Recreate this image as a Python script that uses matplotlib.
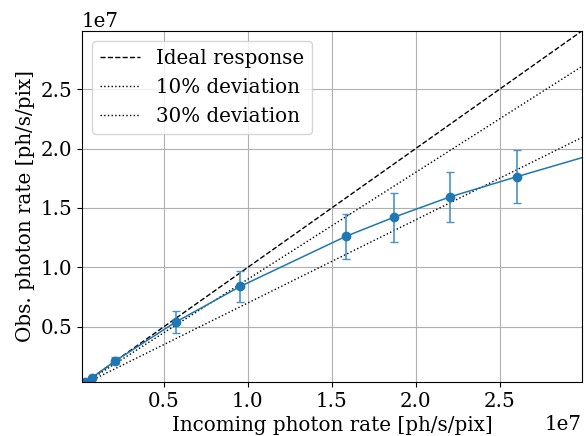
import numpy as np
import matplotlib
matplotlib.use("Agg")
import matplotlib.pyplot as plt

plt.rcParams['font.family'] = 'DejaVu Serif'
plt.rcParams['font.size'] = 14.3

# measured points (ph/s/pix)
rate_in = np.array([0.03, 0.07, 0.21, 0.571, 0.956, 1.584, 1.869, 2.204, 2.605]) * 1e7
rate_obs = np.array([0.035, 0.07, 0.212, 0.540, 0.840, 1.261, 1.421, 1.593, 1.764]) * 1e7
rate_err = np.array([0.005, 0.01, 0.03, 0.092, 0.132, 0.19, 0.205, 0.208, 0.222]) * 1e7

# model curve
curve_in = np.array([0.03, 0.07, 0.21, 0.571, 0.956, 1.584, 1.869, 2.204, 2.605, 3.0]) * 1e7
curve_obs = np.array([0.035, 0.07, 0.212, 0.540, 0.840, 1.261, 1.421, 1.593, 1.764, 1.927]) * 1e7

xmax = 2.99e7
ref = np.array([0, 3e7])

fig = plt.figure(figsize=(5.86, 4.36), dpi=100)
ax = fig.add_axes([0.14, 0.124, 0.853, 0.805])

ax.plot(ref, ref, 'k--', lw=1, label='Ideal response')
ax.plot(ref, 0.9 * ref, 'k:', lw=1, label='10% deviation')
ax.plot(ref, 0.7 * ref, 'k:', lw=1, label='30% deviation')
ax.plot(curve_in, curve_obs, color='C0', lw=1.1)
ax.errorbar(rate_in, rate_obs, yerr=rate_err, fmt='o', color='C0', ms=6,
            capsize=3, elinewidth=1.2, ecolor='#4a93c8')

ax.set_xlim(0.012e7, xmax)
ax.set_ylim(0.035e7, xmax)
ax.grid(True, color='#b0b0b0', lw=0.8)
ax.set_xlabel('Incoming photon rate [ph/s/pix]')
ax.set_ylabel('Obs. photon rate [ph/s/pix]')
ax.legend(loc='upper left')

fig.savefig('out.png', dpi=100)
